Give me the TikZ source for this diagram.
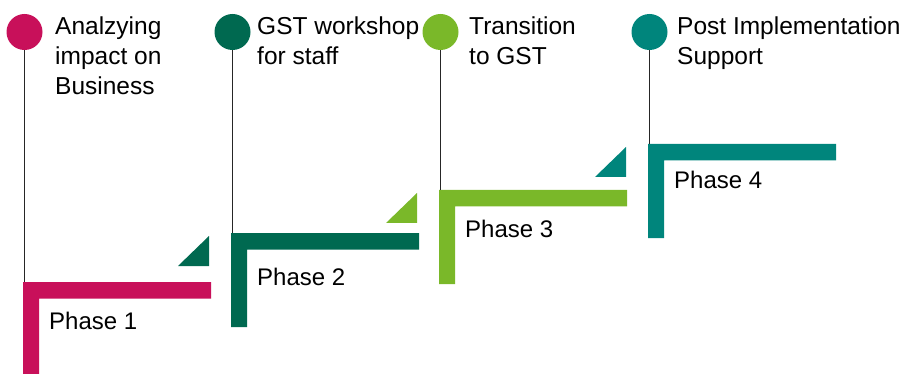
\documentclass[tikz,border=0pt]{standalone}
\usepackage{fontspec}
\setmainfont{Liberation Sans}
\definecolor{phaseA}{HTML}{C8105A}
\definecolor{phaseB}{HTML}{006950}
\definecolor{phaseC}{HTML}{7AB829}
\definecolor{phaseD}{HTML}{00857C}
\tikzset{
  dot/.style={circle, fill=#1, minimum size=36pt, inner sep=0pt},
  stem/.style={line width=1.3pt, color=black!85},
  title/.style={anchor=north west, inner sep=0pt, align=left, font=\fontsize{24.5}{30}\selectfont},
  phaselabel/.style={anchor=base west, inner sep=0pt, font=\fontsize{24}{28}\selectfont},
}

\begin{document}
\begin{tikzpicture}[x=1pt,y=-1pt]
			%%%%% START %%%%%
			\useasboundingbox (0,0) rectangle (918,374);
			\clip (0,0) rectangle (918,374);
			
			% x / top of step / label baseline / heading x / colour / number / heading
			\foreach \x/\y/\ly/\tx/\col/\n/\txt in {
				23/282/329/55/phaseA/1/{Analzying\\impact on\\Business},
				231/233/285/257/phaseB/2/{GST workshop\\for staff},
				439/190/237/469/phaseC/3/{Transition\\to GST},
				648/144/189/677/phaseD/4/{Post Implementation\\Support}}{
				
				% step: L shaped bar
				\fill[\col] (\x,\y) -- ++(188,0) -- ++(0,16.5) -- ++(-172,0) -- ++(0,77.5) -- ++(-16,0) -- cycle;
				\ifnum\n>1
					\fill[\col] (\x-22,\y+3) -- (\x-22,\y+33) -- (\x-53,\y+33) -- cycle;
				\fi
				\node[phaselabel] (p\n) at (\x+26,\ly) {Phase \n};
				
				% dot, stem and heading
				\node[dot=\col] (c\n) at (\x+1.5,32) {};
				\coordinate (top\n) at (\x+1.5,\y);
				\draw[stem] (c\n.south) -- (top\n);
				\node[title] (t\n) at (\tx,17) {\txt};
			}
			
			%%%%% END %%%%%
\end{tikzpicture}
\end{document}
